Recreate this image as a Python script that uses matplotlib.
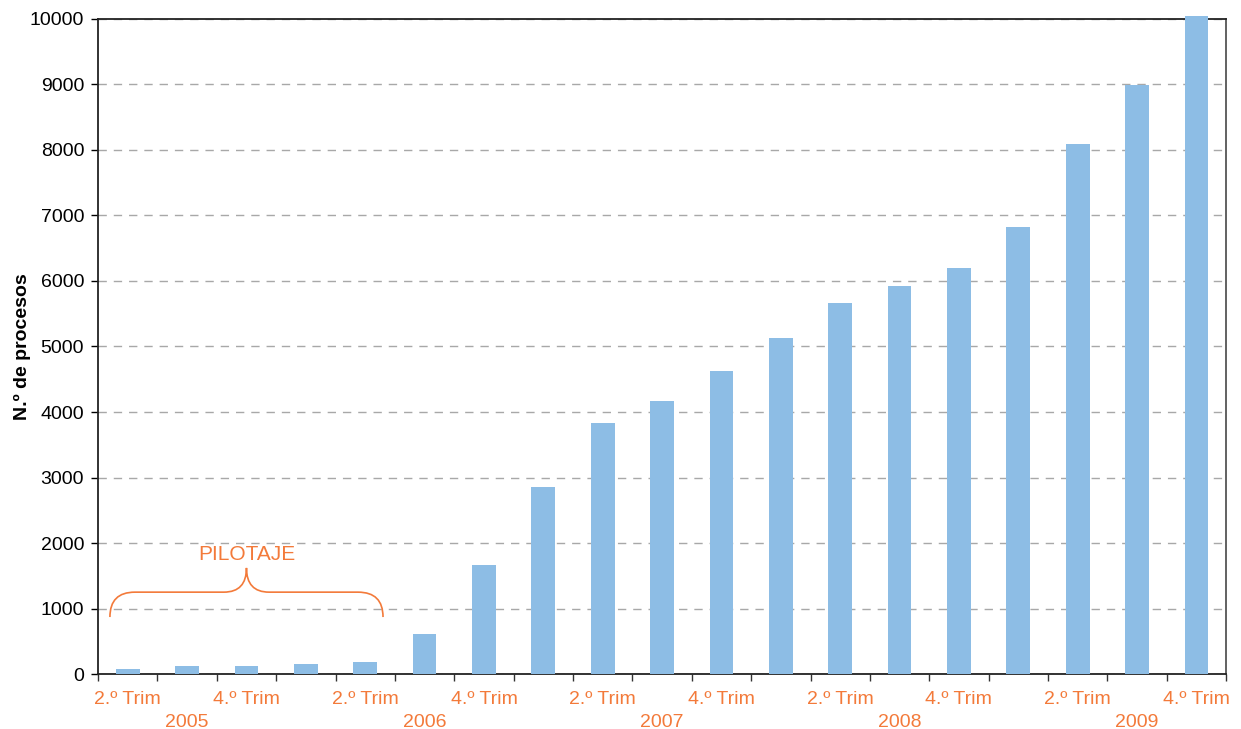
import matplotlib.pyplot as plt
from matplotlib.path import Path
from matplotlib.patches import PathPatch

plt.rcParams['font.family'] = ['Liberation Sans', 'DejaVu Sans']

trimestres = ["2005-T2", "2005-T3", "2005-T4", "2006-T1", "2006-T2", "2006-T3",
              "2006-T4", "2007-T1", "2007-T2", "2007-T3", "2007-T4", "2008-T1",
              "2008-T2", "2008-T3", "2008-T4", "2009-T1", "2009-T2", "2009-T3",
              "2009-T4"]
procesos = [70, 115, 130, 147, 180, 605, 1665, 2860, 3835, 4170, 4630, 5135,
            5665, 5925, 6200, 6825, 8095, 8995, 10050]
etiquetas = ["2.º Trim", "\n2005", "4.º Trim", "", "2.º Trim", "\n2006",
             "4.º Trim", "", "2.º Trim", "\n2007", "4.º Trim", "",
             "2.º Trim", "\n2008", "4.º Trim", "", "2.º Trim", "\n2009",
             "4.º Trim"]
yticks = list(range(0, 10001, 1000))

naranja = '#F37A3A'
azul = '#8DBDE5'

fig = plt.figure(figsize=(12.41, 7.29), dpi=100)
ax = fig.add_axes([0.079, 0.0754, 0.909, 0.8986])

x = list(range(len(procesos)))
bars = ax.bar(x, procesos, width=0.4, color=azul, zorder=3)
for b in bars:
    b.set_clip_on(False)

ax.set_xlim(-0.5, len(procesos) - 0.5)
ax.set_ylim(0, 10000)
ax.set_yticks(yticks)
ax.tick_params(axis='y', labelsize=14, length=5, width=1, pad=5)
ax.yaxis.grid(True, linestyle=(0, (6, 5)), color='#A8A8A8', linewidth=1)
ax.set_axisbelow(True)

# x ticks at bar boundaries, labels centred on bars
ax.set_xticks([i - 0.5 for i in range(len(procesos) + 1)])
ax.set_xticklabels([])
ax.set_xticks(x, minor=True)
ax.set_xticklabels(etiquetas, minor=True, color=naranja, fontsize=14, linespacing=1.45)
ax.tick_params(axis='x', which='minor', length=0, pad=12)
ax.tick_params(axis='x', which='major', length=5, width=1, color='#333333')

for s in ax.spines.values():
    s.set_linewidth(1.3)
    s.set_color('#222222')
ax.spines['right'].set_color('#555555')

ax.set_ylabel("N.º de procesos", fontsize=14, fontweight='bold', labelpad=-1)

# brace for PILOTAJE
x0, x1, xm = -0.3, 4.3, 2.0
yb, yh, yt = 870, 1250, 1620
rx, mx = 0.42, 0.38
verts = [(x0, yb), (x0, yh), (x0 + rx, yh), (xm - mx, yh), (xm, yh), (xm, yt),
         (xm, yh), (xm + mx, yh), (x1 - rx, yh), (x1, yh), (x1, yb)]
codes = [Path.MOVETO, Path.CURVE3, Path.CURVE3, Path.LINETO, Path.CURVE3, Path.CURVE3,
         Path.CURVE3, Path.CURVE3, Path.LINETO, Path.CURVE3, Path.CURVE3]
ax.add_patch(PathPatch(Path(verts, codes), fill=False, edgecolor=naranja, linewidth=1.2, zorder=4))
ax.text(xm, 1830, "PILOTAJE", color=naranja, fontsize=15, ha='center', va='center')

fig.savefig("out.png", dpi=100)
